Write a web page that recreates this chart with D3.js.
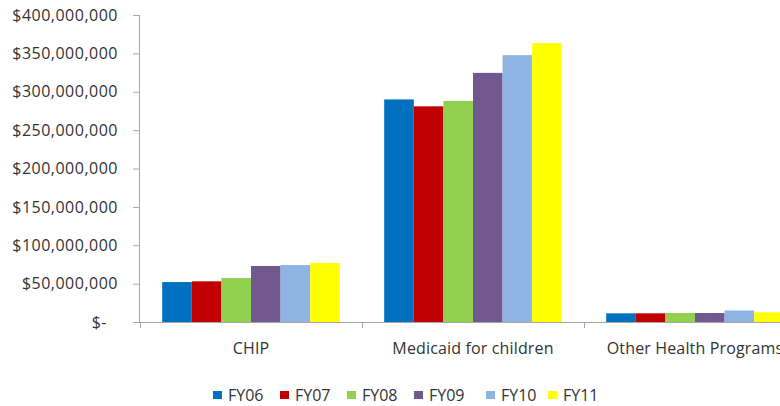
<!DOCTYPE html>
<html><head><meta charset="utf-8">
<script src="https://cdn.jsdelivr.net/npm/d3@7"></script>
<style>body{margin:0;background:#fff}svg{display:block}text{font-family:"Open Sans",sans-serif;fill:#333}</style>
</head><body><svg id="c" width="780" height="406"></svg>
<script>
const categories = ["CHIP", "Medicaid for children", "Other Health Programs"];
const seriesNames = ["FY06", "FY07", "FY08", "FY09", "FY10", "FY11"];
const FY06 = [52000000, 290000000, 11300000];
const FY07 = [53000000, 281000000, 11300000];
const FY08 = [57300000, 288000000, 11700000];
const FY09 = [73000000, 324600000, 11700000];
const FY10 = [74200000, 347700000, 15000000];
const FY11 = [76800000, 363300000, 12600000];
const yTicks = [0, 50000000, 100000000, 150000000, 200000000, 250000000, 300000000, 350000000, 400000000];
const colors = ["#0070C0", "#C00000", "#92D050", "#71588F", "#8EB4E3", "#FFFF00"];
const seriesValues = [FY06, FY07, FY08, FY09, FY10, FY11];

(function () {
const svg = d3.select("#c");
const mLeft = 140, mRight = 806, mTop = 15, mBottom = 322;
const y = d3.scaleLinear().domain([0, 400000000]).range([mBottom, mTop]);
const x0 = d3.scaleBand().domain(categories).range([mLeft, mRight]).padding(0);
const bw = x0.bandwidth();
const x1 = d3.scaleBand().domain(seriesNames).range([bw * 0.1, bw * 0.9]).padding(0);
const axisColor = "#A6A6A6";

const g = svg.append("g");
categories.forEach((c, ci) => {
  seriesNames.forEach((s, si) => {
    const v = seriesValues[si][ci];
    g.append("rect")
      .attr("x", x0(c) + x1(s))
      .attr("y", y(v))
      .attr("width", x1.bandwidth())
      .attr("height", y(0) - y(v))
      .attr("fill", colors[si]);
  });
});

const fmt = v => v === 0 ? "$-" : "$" + d3.format(",")(v);
const ya = svg.append("g").attr("transform", `translate(${mLeft},0)`)
  .call(d3.axisLeft(y).tickValues(yTicks).tickSize(7).tickPadding(15).tickFormat(fmt));
ya.attr("font-family", null).attr("font-size", null);
ya.select(".domain").attr("stroke", axisColor).attr("d", `M-0.5,${mTop}V${mBottom}`);
ya.selectAll(".tick line").attr("stroke", axisColor);
ya.selectAll(".tick text").style("font-size", "16px").style("letter-spacing", "0.5px").style("fill", "#333");
ya.selectAll(".tick").filter(d => d === 0).select("text").attr("x", -33);

const xa = svg.append("g").attr("transform", `translate(0,${mBottom})`);
xa.append("line").attr("x1", mLeft).attr("x2", mRight).attr("y1", 0.5).attr("y2", 0.5).attr("stroke", axisColor);
categories.forEach(c => {
  xa.append("line").attr("x1", Math.round(x0(c)) + 0.5).attr("x2", Math.round(x0(c)) + 0.5)
    .attr("y1", 0).attr("y2", 6).attr("stroke", axisColor);
  xa.append("text").attr("x", x0(c) + bw / 2).attr("y", 32)
    .attr("text-anchor", "middle").style("font-size", "16px").style("letter-spacing", "0.15px").text(c);
});

const legendX = [213, 280, 347, 414, 486, 548];
seriesNames.forEach((s, i) => {
  const lg = svg.append("g").attr("transform", `translate(${legendX[i]},395)`);
  lg.append("rect").attr("x", 0).attr("y", -4).attr("width", 9).attr("height", 8).attr("fill", colors[i]);
  lg.append("text").attr("x", 15).attr("y", 0).attr("dy", "0.35em").style("font-size", "16px").text(s);
});
})();
</script></body></html>
